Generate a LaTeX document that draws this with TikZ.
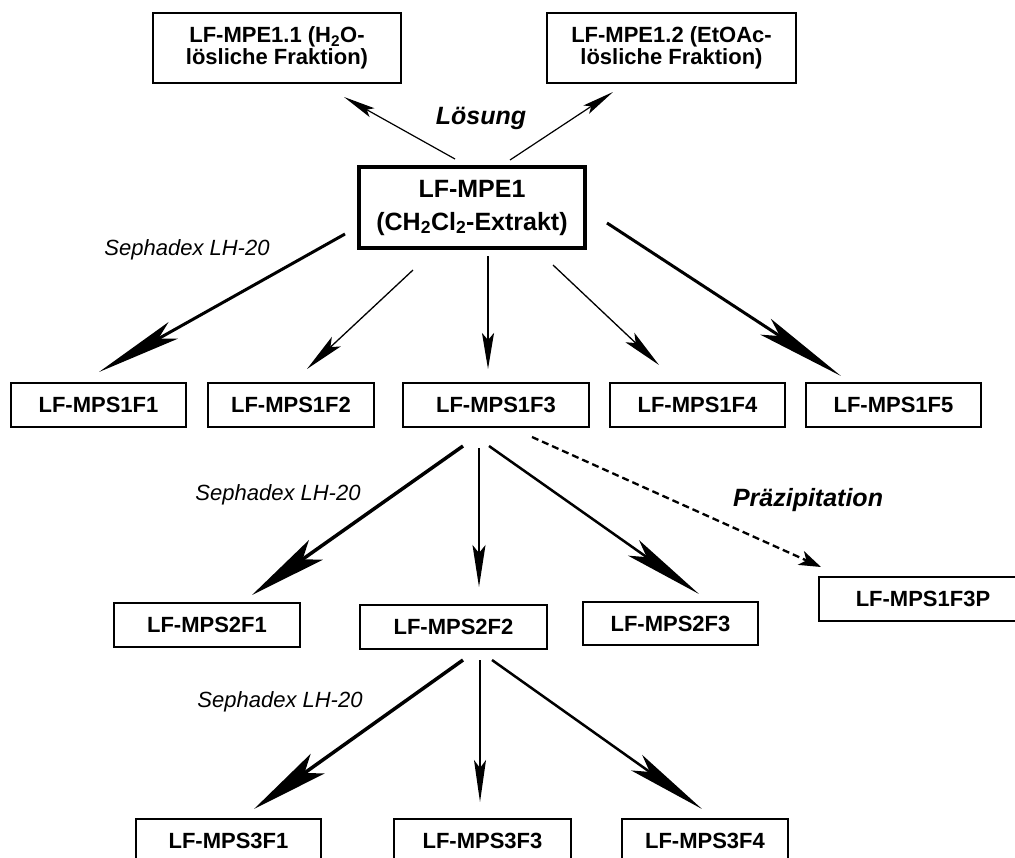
\documentclass[tikz,border=0pt]{standalone}
\usepackage{fontspec}
\setmainfont{Liberation Sans}
\usetikzlibrary{arrows.meta}
\begin{document}
\begin{tikzpicture}[x=1pt,y=-1pt,
  box/.style={draw, line width=1.3pt, inner sep=0pt, align=center,
    font=\fontsize{22}{22.5}\selectfont\bfseries},
  mainbox/.style={draw, line width=4pt, inner sep=0pt, align=center,
    font=\fontsize{25}{33}\selectfont\bfseries},
  lbl/.style={font=\fontsize{22}{24}\selectfont\itshape, inner sep=0pt},
  blbl/.style={font=\fontsize{25}{27}\selectfont\bfseries\itshape, inner sep=0pt},
  arr/.style n args={4}{line width=#1, -{Stealth[length=#2, width=#3, inset=#4]}},
  darr/.style={line width=2.3pt, dash pattern=on 7pt off 4pt, -{Stealth[length=22pt, width=15pt, inset=6pt]}}
]
\useasboundingbox (0,0) rectangle (1015,857);
\clip (0,0) rectangle (1015,857);

% nodes
\node[box, minimum width=248pt, minimum height=70pt] (mpe11) at (277,48) {LF-MPE1.1 (H\textsubscript{2}O-\\lösliche Fraktion)};
\node[box, minimum width=249pt, minimum height=70pt] (mpe12) at (671.5,48) {LF-MPE1.2 (EtOAc-\\lösliche Fraktion)};
\node[mainbox, minimum width=226pt, minimum height=81pt] (mpe1) at (472,207.5) {LF-MPE1\\(CH\textsubscript{2}Cl\textsubscript{2}-Extrakt)};

\node[box, minimum width=175pt, minimum height=44pt] (f1) at (98.5,405) {LF-MPS1F1};
\node[box, minimum width=166pt, minimum height=44pt] (f2) at (291,405) {LF-MPS1F2};
\node[box, minimum width=186pt, minimum height=44pt] (f3) at (496,405) {LF-MPS1F3};
\node[box, minimum width=175pt, minimum height=44pt] (f4) at (697.5,405) {LF-MPS1F4};
\node[box, minimum width=175pt, minimum height=44pt] (f5) at (893.5,405) {LF-MPS1F5};

\node[box, minimum width=186pt, minimum height=44pt] (g1) at (207,625) {LF-MPS2F1};
\node[box, minimum width=187pt, minimum height=44pt] (g2) at (453.5,627) {LF-MPS2F2};
\node[box, minimum width=175pt, minimum height=43pt] (g3) at (670.5,623.5) {LF-MPS2F3};
\node[box, minimum width=208pt, minimum height=44pt] (fp) at (923,599) {LF-MPS1F3P};

\node[box, minimum width=185pt, minimum height=44pt] (h1) at (228.5,841) {LF-MPS3F1};
\node[box, minimum width=177pt, minimum height=44pt] (h3) at (482.5,841) {LF-MPS3F3};
\node[box, minimum width=166pt, minimum height=44pt] (h4) at (705,841) {LF-MPS3F4};

% labels
\node[blbl] (loesung) at (481,118) {Lösung};
\node[blbl] (praez) at (808,500) {Präzipitation};
\node[lbl] (seph1) at (187,250) {Sephadex LH-20};
\node[lbl] (seph2) at (278,495) {Sephadex LH-20};
\node[lbl] (seph3) at (280,702) {Sephadex LH-20};

% connector end points
\coordinate (a1s) at (455,159); \coordinate (a1e) at (344,97);
\coordinate (a2s) at (510,160); \coordinate (a2e) at (613,92);
\coordinate (b1s) at (345,234); \coordinate (b1e) at (99,372);
\coordinate (b2s) at (413,270); \coordinate (b2e) at (307,369);
\coordinate (b3s) at (488,256); \coordinate (b3e) at (488,369);
\coordinate (b4s) at (553,265); \coordinate (b4e) at (659,365);
\coordinate (b5s) at (607,223); \coordinate (b5e) at (841,376);
\coordinate (c1s) at (463,446); \coordinate (c1e) at (252,595);
\coordinate (c2s) at (479,448); \coordinate (c2e) at (479,587);
\coordinate (c3s) at (489,446); \coordinate (c3e) at (699,594);
\coordinate (ds)  at (532,437); \coordinate (de)  at (821,567);
\coordinate (e1s) at (463,660); \coordinate (e1e) at (254,809);
\coordinate (e2s) at (480,660); \coordinate (e2e) at (480,802);
\coordinate (e3s) at (492,660); \coordinate (e3e) at (702,809);

% connectors
\draw[arr={1.2pt}{32pt}{10pt}{6pt}] (a1s) -- (a1e);
\draw[arr={1.2pt}{32pt}{10pt}{6pt}] (a2s) -- (a2e);
\draw[arr={3pt}{85pt}{19pt}{17pt}] (b1s) -- (b1e);
\draw[arr={1.3pt}{40pt}{13pt}{8pt}] (b2s) -- (b2e);
\draw[arr={2pt}{36pt}{12pt}{7pt}] (b3s) -- (b3e);
\draw[arr={1.3pt}{40pt}{13pt}{8pt}] (b4s) -- (b4e);
\draw[arr={3pt}{90pt}{19pt}{17pt}] (b5s) -- (b5e);
\draw[arr={3.5pt}{78pt}{24pt}{16pt}] (c1s) -- (c1e);
\draw[arr={1.6pt}{42pt}{13pt}{8pt}] (c2s) -- (c2e);
\draw[arr={2.5pt}{80pt}{19pt}{16pt}] (c3s) -- (c3e);
\draw[darr] (ds) -- (de);
\draw[arr={3.5pt}{78pt}{24pt}{16pt}] (e1s) -- (e1e);
\draw[arr={1.6pt}{42pt}{12pt}{8pt}] (e2s) -- (e2e);
\draw[arr={2.5pt}{80pt}{19pt}{16pt}] (e3s) -- (e3e);
\end{tikzpicture}
\end{document}
